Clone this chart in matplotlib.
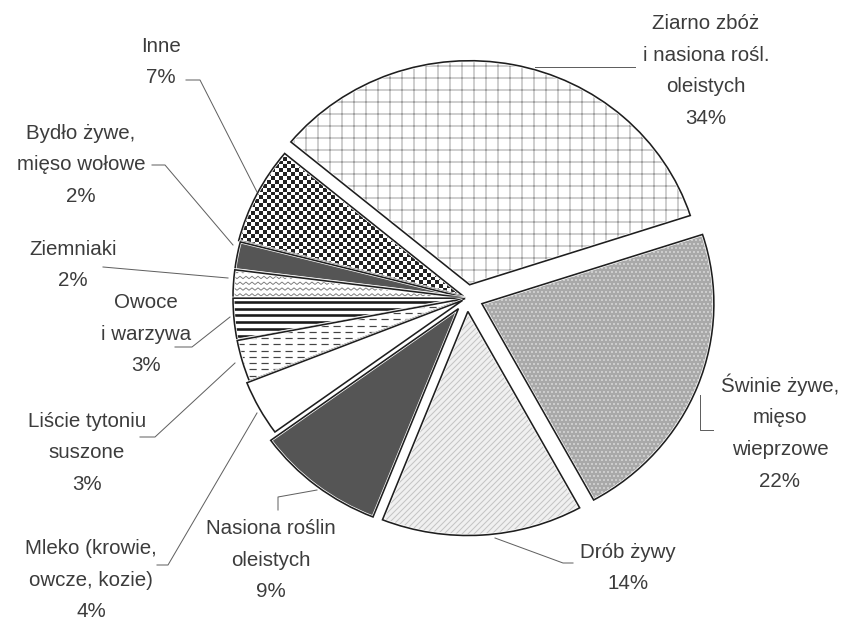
import numpy as np
import matplotlib.pyplot as plt
from matplotlib.patches import Wedge
from matplotlib.colors import ListedColormap

plt.rcParams['font.family'] = ['Liberation Sans', 'DejaVu Sans']

# data
labels = ['Ziarno zbóż\ni nasiona rośl.\noleistych', 'Inne', 'Bydło żywe,\nmięso wołowe',
          'Ziemniaki', 'Owoce\ni warzywa', 'Liście tytoniu\nsuszone',
          'Mleko (krowie,\nowcze, kozie)', 'Nasiona roślin\noleistych', 'Drób żywy',
          'Świnie żywe,\nmięso\nwieprzowe']
shares = [34, 7, 2, 2, 3, 3, 4, 9, 14, 22]

# styling (explode in pixels, pie is drawn in pixel units)
explode = [14, 4, 2, 2, 2, 2, 5, 14, 14, 16]
fills = ['white', 'white', '#555555', 'white', 'white', 'white', 'white', '#555555', '#f0f0f0', '#a9a9a9']

W, H = 841, 621
SY = 232 / 224  # the scanned pie is a little wider than tall
# label centres and leader lines, in pixels from top-left
label_xy = [(706, 71), (161, 62), (81, 165), (73, 265), (146, 334), (87, 453),
            (91, 580), (271, 560), (628, 568), (780, 432)]
leaders = [[(535, 67), (635, 67)],
           [(186, 80), (200, 80), (257, 192)],
           [(152, 165), (165, 165), (233, 245)],
           [(103, 267), (228, 278)],
           [(175, 347), (192, 347), (230, 317)],
           [(140, 437), (155, 437), (235, 363)],
           [(157, 565), (168, 565), (257, 413)],
           [(278, 510), (278, 497), (317, 490)],
           [(573, 563), (563, 563), (495, 538)],
           [(713, 430), (700, 430), (700, 395)]]


def Y(py):
    return (H - py) * SY


fig = plt.figure(figsize=(W / 72, H / 72), dpi=72)
ax = fig.add_axes([0, 0, 1, 1])
cx, cy, R = 467, Y(298), 232

wedges, _ = ax.pie(shares, explode=explode, startangle=18, radius=R, center=(cx, cy),
                   colors=fills, wedgeprops=dict(edgecolor='none', linewidth=0))


def overlay(w, **kw):
    p = Wedge(w.center, w.r, w.theta1, w.theta2, **kw)
    ax.add_patch(p)
    return p


# Ziarno: grey grid
overlay(wedges[0], fc='none', ec='#a0a0a0', hatch='+', lw=0, zorder=2)
# Drób: fine diagonal
overlay(wedges[8], fc='none', ec='#c4c4c4', hatch='////', lw=0, zorder=2)
# Świnie: light dots on grey
overlay(wedges[9], fc='none', ec='#dcdcdc', hatch='...', lw=0, zorder=2)

# Inne: checkerboard
n = int(2 * R / 4) + 2
board = np.indices((n, n)).sum(0) % 2
wc = wedges[1].center
ax.imshow(board, cmap=ListedColormap(['white', '#222222']), interpolation='nearest',
          extent=(wc[0] - R, wc[0] - R + 4 * n, wc[1] - R, wc[1] - R + 4 * n),
          clip_path=wedges[1], zorder=2)

# Ziemniaki: zigzag
xs = np.arange(cx - R - 10, cx + 10, 3.0)
for y0 in np.arange(cy - 40, cy + 60, 6.0):
    zz, = ax.plot(xs, y0 + 2.5 * (np.arange(len(xs)) % 2), color='#777777', lw=0.9, zorder=2)
    zz.set_clip_path(wedges[3])
# Owoce: black horizontal stripes
st = ax.hlines(np.arange(cy - 60, cy + 20, 7.0), cx - R - 10, cx + 10, color='#1a1a1a',
               lw=2.6, zorder=2)
st.set_clip_path(wedges[4])
# Liście: dashed lines
ds = ax.hlines(np.arange(cy - 100, cy, 6.5), cx - R - 10, cx + 10, color='#444444',
               lw=1.2, linestyles=(0, (6, 4)), zorder=2)
ds.set_clip_path(wedges[5])

# outlines on top
for w in wedges:
    overlay(w, fc='none', ec='white', lw=3.0, zorder=3)
    overlay(w, fc='none', ec='#1e1e1e', lw=1.6, zorder=3)

for lab, s, (lx, ly), pts in zip(labels, shares, label_xy, leaders):
    ax.text(lx, Y(ly), f'{lab}\n{s}%', ha='center', va='center', fontsize=20.5,
            color='#3c3c3c', linespacing=1.84, multialignment='center')
    ax.plot([p[0] for p in pts], [Y(p[1]) for p in pts], color='#606060', lw=1.0, zorder=4)

ax.set_xlim(0, W)
ax.set_ylim(0, H * SY)
ax.set_aspect('auto')
ax.axis('off')
fig.savefig('out.png', dpi=72)
